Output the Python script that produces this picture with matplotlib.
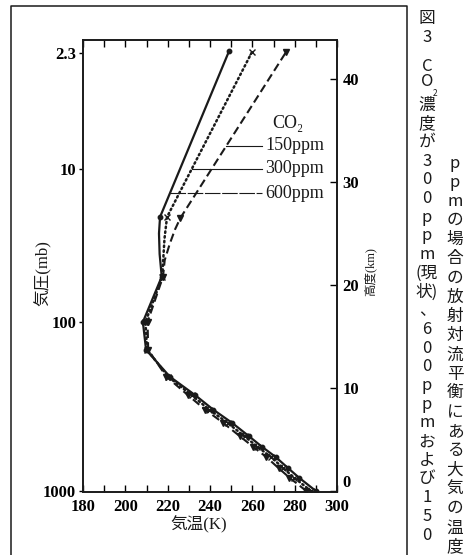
import numpy as np
import matplotlib.pyplot as plt
from matplotlib.lines import Line2D
from matplotlib.ticker import MultipleLocator

# altitude (km) and temperature (K), one set per CO2 level
z_600 = [0, 1.3, 2.2, 3.3, 4.3, 5.3, 6.6, 7.9, 9.3, 11.1, 13.7, 16.4, 20.8, 23.0, 25.0, 26.6, 42.7]
t_600 = [290.0, 282.0, 277.0, 271.0, 264.5, 258.5, 250.5, 241.5, 233.0, 221.0, 209.8, 208.3, 217.2, 216.2, 215.9, 216.4, 249.0]
mk_600 = [0, 1, 2, 3, 4, 5, 6, 7, 8, 9, 10, 11, 12, 15, 16]

z_300 = [0, 1.3, 2.2, 3.3, 4.3, 5.3, 6.6, 7.9, 9.3, 11.1, 13.7, 16.4, 20.8, 22.1, 24.5, 26.6, 42.6]
t_300 = [287.7, 279.7, 274.7, 268.8, 262.4, 256.3, 248.4, 239.6, 231.3, 220.2, 210.3, 209.5, 217.5, 217.8, 218.5, 219.7, 259.8]
mk_300 = [0, 1, 2, 3, 4, 5, 6, 7, 8, 9, 10, 11, 12, 15, 16]

z_150 = [0, 1.3, 2.2, 3.3, 4.3, 5.3, 6.6, 7.9, 9.3, 11.1, 13.7, 16.4, 20.8, 22.4, 24.0, 25.4, 26.5, 42.6]
t_150 = [285.5, 277.5, 272.5, 266.6, 260.3, 254.2, 246.3, 237.7, 229.6, 219.4, 210.8, 210.5, 217.8, 218.6, 221.0, 223.5, 226.0, 275.9]
mk_150 = [0, 1, 2, 3, 4, 5, 6, 7, 8, 9, 10, 11, 12, 16, 17]

# left axis: pressure labels sitting at these heights
p_labels = ['2.3', '10', '100', '1000']
p_height = [42.5, 31.3, 16.4, 0.0]
km_ticks = [0, 10, 20, 30, 40]

# legend entries: label, height of the leader line
leg_labels = ['150ppm', '300ppm', '600ppm']
leg_height = [33.5, 31.3, 28.9]

serif = ['Liberation Serif', 'DejaVu Serif', 'Noto Sans CJK JP']
jp = ['Noto Sans CJK JP', 'DejaVu Sans']
ink = '#1a1a1a'

fig = plt.figure(figsize=(4.7, 5.55), dpi=100)
W, H = 470, 555
ax = fig.add_axes([83 / W, 63 / H, 254 / W, 452.5 / H])

ax.plot(t_600, z_600, '-', color=ink, lw=1.6, marker='o', ms=3.2, markevery=mk_600)
ax.plot(t_300, z_300, color=ink, lw=1.8, linestyle=(0, (0.6, 1.3)), dash_capstyle='round',
        marker='x', ms=4, mew=1.0, markevery=mk_300)
ax.plot(t_150, z_150, color=ink, lw=1.5, linestyle=(0, (4, 2)),
        marker='v', ms=4, markevery=mk_150)

ax.set_xlim(180, 300)
ax.set_ylim(-0.1, 43.83)

# x ticks: every 10 K, labelled every 20 K, inward on top and bottom
ax.xaxis.set_major_locator(MultipleLocator(20))
ax.xaxis.set_minor_locator(MultipleLocator(10))
ax.tick_params(axis='x', which='both', direction='in', top=True, length=5, width=1, pad=5)
for lab in ax.get_xticklabels():
    lab.set_family(serif)
    lab.set_fontsize(12)
    lab.set_weight('bold')

ax.set_yticks(p_height)
ax.set_yticklabels(p_labels, family=serif, fontsize=12, weight='bold')
ax.tick_params(axis='y', direction='out', length=3, width=1, pad=2)

ax2 = ax.twinx()
ax2.set_ylim(ax.get_ylim())
ax2.set_yticks(km_ticks)
ax2.set_yticklabels([str(k) for k in km_ticks], family=serif, fontsize=12, weight='bold')
ax2.tick_params(axis='y', direction='in', length=5, width=1, pad=4)
# the "0" sits a little above the corner, clear of the 300 label
ax2.get_yticklabels()[0].set_va('bottom')

for a in (ax, ax2):
    for s in a.spines.values():
        s.set_linewidth(1.2)
        s.set_color(ink)

# legend with leader lines drawn out to each curve
curves = [(z_150, t_150, '-'), (z_300, t_300, '-'), (z_600, t_600, (0, (14, 1.5)))]
for (zc, tc, ls), lab, h in zip(curves, leg_labels, leg_height):
    t0 = np.interp(h, zc, tc)
    ax.plot([t0, 264.5], [h, h], color=ink, lw=0.8, linestyle=ls)
    ax.text(266, h, lab, family=serif, fontsize=13, va='center', ha='left', color=ink)
ax.text(269.5, 35.7, 'CO₂', family=serif, fontsize=13, va='center', ha='left', color=ink)

fig.text(43 / W, 1 - 273 / H, '気圧(mb)', rotation=90, ha='center', va='center',
         family=serif, fontsize=12, color=ink)
fig.text(199 / W, 1 - 525 / H, '気温(K)', ha='center', va='center',
         family=serif, fontsize=12, color=ink)
fig.text(370 / W, 1 - 272 / H, '高度(km)', rotation=90, ha='center', va='center',
         family=serif, fontsize=9, color=ink)

# outer frame of the figure panel
fig.add_artist(Line2D([11 / W, 11 / W, 407 / W, 407 / W], [0, 1 - 6 / H, 1 - 6 / H, 0],
                      transform=fig.transFigure, color=ink, lw=1.1))

# vertical caption, one glyph at a time
col1 = ['図', '3', 'C\nO']
col1_y = [18, 37, 74]
rest1 = ['濃', '度', 'が', '3', '0', '0', 'p', 'p', 'm', '(現', '状)', '、',
         '6', '0', '0', 'p', 'p', 'm', 'お', 'よ', 'び', '1', '5', '0']
col1 += rest1
col1_y += [105 + 18.7 * i for i in range(len(rest1))]
for ch, y in zip(col1, col1_y):
    fig.text(427 / W, 1 - y / H, ch, ha='center', va='center', family=jp, fontsize=12,
             color=ink, linespacing=0.9)
fig.text(435 / W, 1 - 93 / H, '2', ha='center', va='center', family=jp, fontsize=6, color=ink)

col2 = ['p', 'p', 'm', 'の', '場', '合', 'の', '放', '射', '対', '流', '平', '衡',
        'に', 'あ', 'る', '大', '気', 'の', '温', '度']
for i, ch in enumerate(col2):
    fig.text(455 / W, 1 - (163 + 19.2 * i) / H, ch, ha='center', va='center',
             family=jp, fontsize=12, color=ink)

fig.savefig('out.png', dpi=100)
